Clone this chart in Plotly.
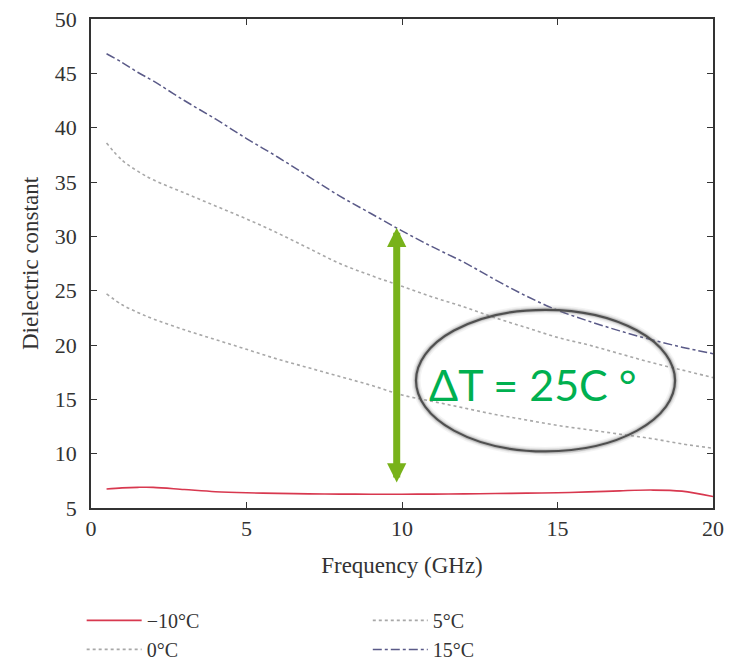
import plotly.graph_objects as go

# Frequency grid (GHz)
freq = [0.5, 1, 1.5, 2, 3, 4, 5, 6, 7, 8, 9, 10, 11, 12, 13, 14, 15, 16, 17, 18, 19, 20]

# Dielectric constant at each temperature
eps_m10 = [6.75, 6.85, 6.9, 6.9, 6.7, 6.5, 6.4, 6.35, 6.3, 6.28, 6.27, 6.27, 6.28, 6.3,
           6.33, 6.37, 6.4, 6.48, 6.58, 6.65, 6.55, 6.05]
eps_0 = [24.7, 23.7, 23.0, 22.4, 21.4, 20.5, 19.6, 18.7, 17.9, 17.1, 16.3, 15.4, 14.8, 14.2,
         13.6, 13.1, 12.6, 12.2, 11.8, 11.4, 10.9, 10.5]
eps_5 = [38.6, 37.0, 36.0, 35.2, 34.0, 32.8, 31.6, 30.3, 28.9, 27.5, 26.4, 25.4, 24.4, 23.5,
         22.5, 21.6, 20.7, 20.0, 19.2, 18.4, 17.7, 17.0]
eps_15 = [46.8, 46.0, 45.1, 44.3, 42.5, 40.8, 39.0, 37.3, 35.5, 33.7, 32.1, 30.5, 29.0, 27.6,
          26.0, 24.5, 23.2, 22.2, 21.3, 20.5, 19.8, 19.2]

labels = ["\u221210\u00b0C", "0\u00b0C", "5\u00b0C", "15\u00b0C"]

# Annotation: temperature span at 10 GHz
arrow_x = 9.83
arrow_top = 30.8
arrow_bottom = 7.2
delta_text = "\u0394T = 25C \u00b0"

serif = "Liberation Serif, Times New Roman, serif"
axis_col = "#333333"

fig = go.Figure()
fig.add_trace(go.Scatter(x=freq, y=eps_m10, name=labels[0], mode="lines",
                         line=dict(color="#d8384f", width=1.6, shape="spline"),
                         legend="legend"))
fig.add_trace(go.Scatter(x=freq, y=eps_0, name=labels[1], mode="lines",
                         line=dict(color="#a8a8a8", width=1.6, dash="dot", shape="spline"),
                         legend="legend"))
fig.add_trace(go.Scatter(x=freq, y=eps_5, name=labels[2], mode="lines",
                         line=dict(color="#a8a8a8", width=1.6, dash="dot", shape="spline"),
                         legend="legend2"))
fig.add_trace(go.Scatter(x=freq, y=eps_15, name=labels[3], mode="lines",
                         line=dict(color="#5a5a88", width=1.5, dash="dashdot", shape="spline"),
                         legend="legend2"))

# Glow around the highlight ellipse
ell = dict(x0=10.45, x1=18.78, y0=10.21, y1=23.24)
for w, op in [(9, 0.08), (6, 0.15), (4, 0.3)]:
    fig.add_shape(type="circle", xref="x", yref="y", **ell,
                  line=dict(color="#777777", width=w), opacity=op, layer="above")
fig.add_shape(type="circle", xref="x", yref="y", **ell,
              line=dict(color="#505050", width=2.2), layer="above")

# Double-headed arrow
fig.add_annotation(x=arrow_x, y=arrow_top, ax=arrow_x, ay=arrow_bottom,
                   xref="x", yref="y", axref="x", ayref="y", text="",
                   showarrow=True, arrowhead=2, startarrowhead=2, arrowside="end+start",
                   arrowsize=0.55, startarrowsize=0.55, arrowwidth=7, arrowcolor="#78b21a")

fig.add_annotation(x=14.2, y=16.4, xref="x", yref="y", text=delta_text, showarrow=False,
                   font=dict(family="Lato, sans-serif", size=43, color="#00b050"))

axis_common = dict(showline=True, linecolor=axis_col, linewidth=1.6, mirror="ticks",
                   ticks="inside", ticklen=6, tickwidth=1.4, tickcolor=axis_col,
                   showgrid=False, zeroline=False,
                   tickfont=dict(family=serif, size=22, color=axis_col))

fig.update_xaxes(range=[0, 20], tickvals=[0, 5, 10, 15, 20], ticklabelstandoff=0,
                 **axis_common,
                 title=dict(text="Frequency (GHz)", standoff=17,
                            font=dict(family=serif, size=23, color=axis_col)))
fig.update_yaxes(range=[5, 50], tickvals=[5, 10, 15, 20, 25, 30, 35, 40, 45, 50],
                 ticklabelstandoff=8, **axis_common,
                 title=dict(text="Dielectric constant", standoff=10,
                            font=dict(family=serif, size=23, color=axis_col)))

legend_common = dict(orientation="v", yanchor="top", xanchor="left",
                     font=dict(family=serif, size=20, color=axis_col),
                     bgcolor="rgba(0,0,0,0)", itemwidth=55, tracegroupgap=0)

fig.update_layout(
    width=732, height=664,
    margin=dict(l=91, r=19, t=19, b=156, autoexpand=False),
    paper_bgcolor="white", plot_bgcolor="white",
    showlegend=True,
    legend=dict(x=-0.015, y=-0.19, **legend_common),
    legend2=dict(x=0.445, y=-0.19, **legend_common),
)

fig.write_html("out.html")
